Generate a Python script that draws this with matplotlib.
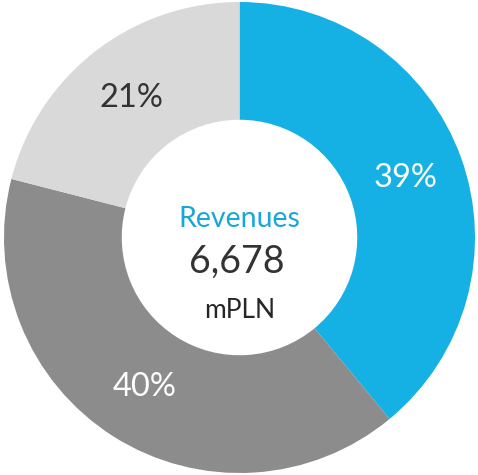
import matplotlib.pyplot as plt

plt.rcParams['font.family'] = ['Lato', 'DejaVu Sans']

labels = ['Segment A', 'Segment B', 'Segment C']
shares = [39, 40, 21]
colors = ['#15B0E4', '#8C8C8C', '#D9D9D9']
pct_colors = ['white', 'white', '#333333']

title = 'Revenues'
total = '6,678'
unit = 'mPLN'

fig = plt.figure(figsize=(4.78, 4.75), dpi=100)
ax = fig.add_axes([0, 0, 1, 1])

wedges, texts, autotexts = ax.pie(
    shares, colors=colors, startangle=90, counterclock=False,
    autopct=lambda p: f'{p:.0f}%', pctdistance=0.75,
    wedgeprops=dict(width=0.5, edgecolor='none'),
    textprops=dict(fontsize=23.5))
for t, c in zip(autotexts, pct_colors):
    t.set_color(c)

ax.text(0, 0.08, title, ha='center', va='center', fontsize=20.5, color='#1AA6D9')
ax.text(-0.01, -0.105, total, ha='center', va='center', fontsize=27, color='#333333')
ax.text(0, -0.31, unit, ha='center', va='center', fontsize=19, color='#262626')

r = 235.5
ax.set_xlim(-239.5 / r, 238.5 / r)
ax.set_ylim(-237.5 / r, 237.5 / r)
ax.set_aspect('auto')
ax.axis('off')

fig.savefig('out.png', dpi=100)
